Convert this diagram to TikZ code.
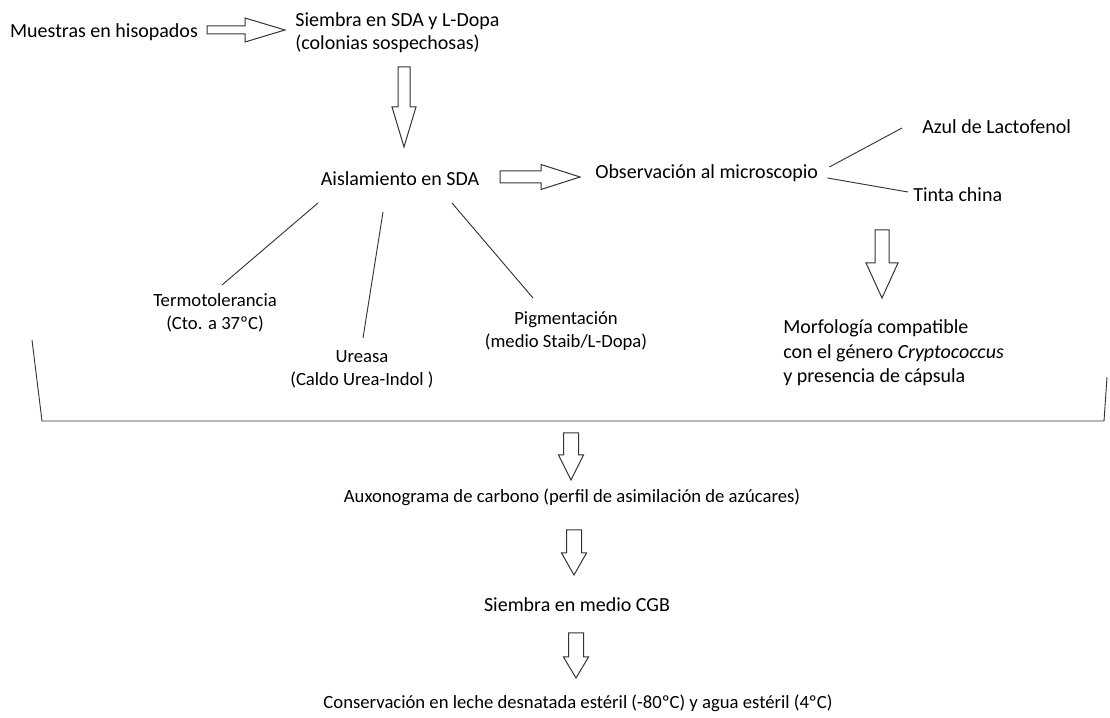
\documentclass[tikz,border=0pt]{standalone}
\usepackage{fontspec}
\setmainfont{Carlito}
\usetikzlibrary{calc}

\begin{document}
\begin{tikzpicture}[x=0.6pt, y=-0.6pt,
  txt/.style={inner sep=0pt, font=\fontsize{12}{14}\selectfont},
  test/.style={inner sep=0pt, align=center, font=\fontsize{11.2}{13.8}\selectfont},
  link/.style={draw, line width=0.55pt, black!80},
  rarrow/.style args={#1/#2/#3}{draw, line width=0.6pt, black!80, to path={
    ($(\tikztostart)+(0,#1)$) -- ($(\tikztotarget)+(-#3,#1)$) -- ($(\tikztotarget)+(-#3,#2)$)
    -- (\tikztotarget) -- ($(\tikztotarget)+(-#3,-#2)$) -- ($(\tikztotarget)+(-#3,-#1)$)
    -- ($(\tikztostart)+(0,-#1)$) -- cycle}},
  darrow/.style args={#1/#2/#3}{draw, line width=0.6pt, black!80, to path={
    ($(\tikztostart)+(-#1,0)$) -- ($(\tikztotarget)+(-#1,-#3)$) -- ($(\tikztotarget)+(-#2,-#3)$)
    -- (\tikztotarget) -- ($(\tikztotarget)+(#2,-#3)$) -- ($(\tikztotarget)+(#1,-#3)$)
    -- ($(\tikztostart)+(#1,0)$) -- cycle}},
]
\useasboundingbox (0,0) rectangle (1110,718);

% top row
\node[txt] (mues) at (104,32) {Muestras en hisopados};
\node[txt, anchor=west, align=left] (siem) at (295,33) {Siembra en SDA y L-Dopa\\(colonias sospechosas)};
\node[txt] (aisl) at (400,179) {Aislamiento en SDA};
\node[txt, anchor=west] (obs) at (595,173) {Observación al microscopio};
\node[txt, anchor=west] (azul) at (922,127) {Azul de Lactofenol};
\node[txt, anchor=west] (tinta) at (913,195) {Tinta china};

% tests
\node[test] (termo) at (215,313) {Termotolerancia\\(Cto. a 37ºC)};
\node[test] (urea) at (362,369) {Ureasa\\(Caldo Urea-Indol )};
\node[test] (pigm) at (566,331) {Pigmentación\\(medio Staib/L-Dopa)};
\node[txt, anchor=west, align=left, font=\fontsize{12}{14.8}\selectfont] (morf) at (783,353) {Morfología compatible\\con el género \textit{Cryptococcus}\\y presencia de cápsula};

% bottom column
\node[test] (auxo) at (572,497) {Auxonograma de carbono (perfil de asimilación de azúcares)};
\node[txt] (cgb) at (577,605) {Siembra en medio CGB};
\node[test] (cons) at (578,703) {Conservación en leche desnatada estéril (-80ºC) y agua estéril (4ºC)};

% arrow ends
\coordinate (a1s) at (207,30);
\coordinate (a1e) at (285,30);
\coordinate (a2s) at (404,67);
\coordinate (a2e) at (404,147);
\coordinate (a3s) at (500,177);
\coordinate (a3e) at (580,177);
\coordinate (a4s) at (882,230);
\coordinate (a4e) at (882,298);
\coordinate (a5s) at (571,433);
\coordinate (a5e) at (571,480);
\coordinate (a6s) at (574,530);
\coordinate (a6e) at (574,575);
\coordinate (a7s) at (576,633);
\coordinate (a7e) at (576,678);

\draw[rarrow=4/12/40] (a1s) to (a1e);
\draw[darrow=6/12/40] (a2s) to (a2e);
\draw[rarrow=6/12.5/39] (a3s) to (a3e);
\draw[darrow=7/16/35] (a4s) to (a4e);
\draw[darrow=7.5/12.5/25] (a5s) to (a5e);
\draw[darrow=7.5/12.5/22] (a6s) to (a6e);
\draw[darrow=7.5/12.5/21] (a7s) to (a7e);

% branches
\draw[link] ($(obs.east)+(11,-6)$) -- ($(azul.west)+(-20,1)$);
\draw[link] ($(obs.east)+(9,5)$) -- ($(tinta.west)+(-5,-3)$);
\draw[link] ($(aisl.center)+(-82,24)$) -- ($(termo.center)+(7,-28)$);
\draw[link] ($(aisl.center)+(-17,33)$) -- ($(urea.center)+(1,-31)$);
\draw[link] ($(aisl.center)+(52,24)$) -- ($(pigm.center)+(-33,-33)$);

% bracket
\draw[link] (32,340) -- (42,421) -- (1104,421) -- (1107,377);

\end{tikzpicture}
\end{document}
